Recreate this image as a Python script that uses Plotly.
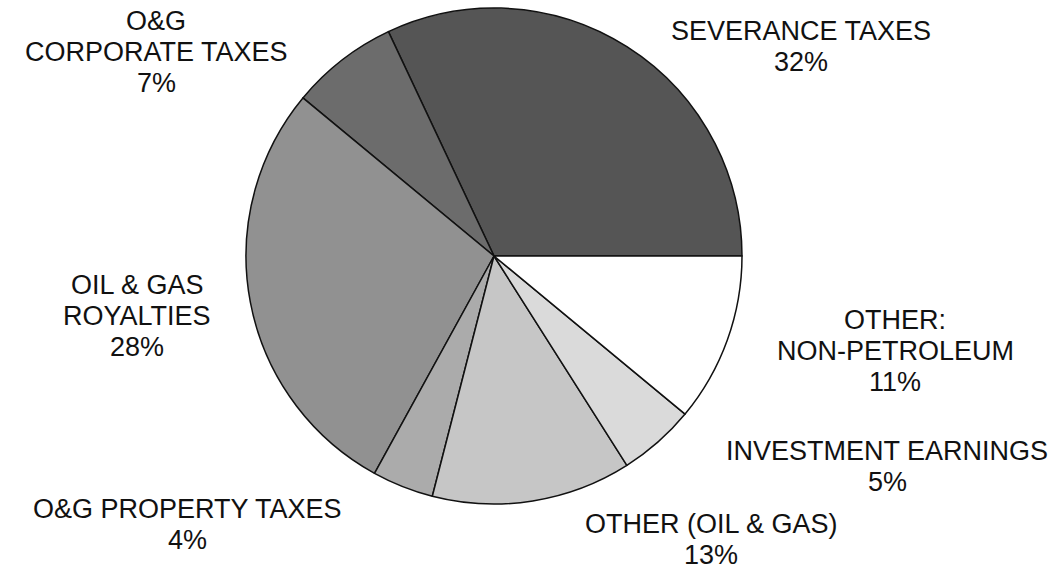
import plotly.graph_objects as go

# ---- data ----
labels = [
    "SEVERANCE TAXES",
    "O&G<br>CORPORATE TAXES",
    "OIL & GAS<br>ROYALTIES",
    "O&G PROPERTY TAXES",
    "OTHER (OIL & GAS)",
    "INVESTMENT EARNINGS",
    "OTHER:<br>NON-PETROLEUM",
]
values = [32, 7, 28, 4, 13, 5, 11]
colors = ["#555555", "#6c6c6c", "#919191", "#ababab", "#c6c6c6", "#dadada", "#ffffff"]

# label placement (pixel centre x, first-line centre y)
label_pos = [(801, 31), (156, 21), (137, 285), (187, 509), (711, 524), (887, 451), (895, 320)]

W, H = 1060, 571
cx, cy, r = 494, 256, 248

# first slice starts at 3 o'clock and runs counter-clockwise
rot = 90 - values[0] / sum(values) * 360

fig = go.Figure(go.Pie(
    labels=labels,
    values=values,
    sort=False,
    direction="counterclockwise",
    rotation=rot,
    textinfo="none",
    hoverinfo="label+percent",
    marker=dict(colors=colors, line=dict(color="#111111", width=1.5)),
    domain=dict(x=[(cx - r) / W, (cx + r) / W], y=[1 - (cy + r) / H, 1 - (cy - r) / H]),
    showlegend=False,
))

line_gap = 31
annotations = []
for lab, v, (px, py) in zip(labels, values, label_pos):
    lines = lab.split("<br>") + [f"{v}%"]
    for i, ln in enumerate(lines):
        annotations.append(dict(
            x=px / W, y=1 - (py + i * line_gap) / H,
            xref="paper", yref="paper",
            text=ln, showarrow=False,
            xanchor="center", yanchor="middle",
            font=dict(family="Liberation Sans, Arial, sans-serif", size=27, color="#111111"),
        ))

fig.update_layout(
    width=W, height=H,
    margin=dict(l=0, r=0, t=0, b=0),
    paper_bgcolor="white",
    plot_bgcolor="white",
    annotations=annotations,
)

fig.write_html("out.html")
